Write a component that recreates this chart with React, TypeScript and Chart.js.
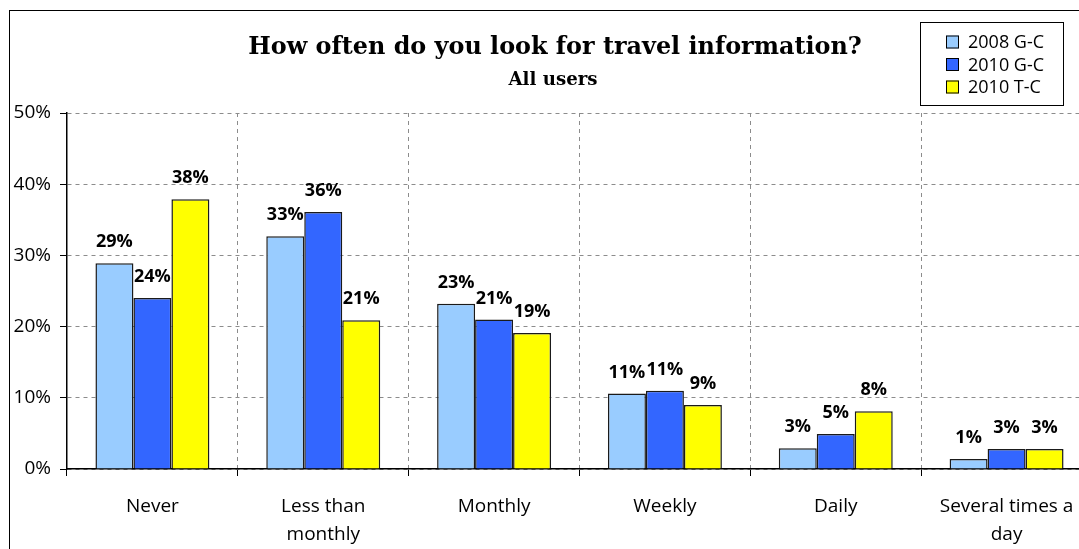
import React, { useEffect, useRef } from "react";
import { Chart, registerables } from "chart.js";

Chart.register(...registerables);

const categories: (string | string[])[] = [
  "Never",
  ["Less than", "monthly"],
  "Monthly",
  "Weekly",
  "Daily",
  ["Several times a", "day"],
];
const seriesNames = ["2008 G-C", "2010 G-C", "2010 T-C"];
const values2008GC = [28.9, 32.7, 23.2, 10.6, 2.9, 1.4];
const values2010GC = [24.0, 36.1, 21.0, 11.0, 4.9, 2.8];
const values2010TC = [37.9, 20.9, 19.1, 9.0, 8.1, 2.8];
const seriesColors = ["#99CCFF", "#3366FF", "#FFFF00"];
const yTicks = [0, 10, 20, 30, 40, 50];
const titleText = "How often do you look for travel information?";
const subtitleText = "All users";

const SANS = "'Open Sans', 'Liberation Sans', sans-serif";
const SERIF = "'DejaVu Serif', 'Liberation Serif', serif";

function fitFont(ctx: CanvasRenderingContext2D, text: string, target: number, base: number) {
  ctx.font = `bold ${base}px ${SERIF}`;
  const w = ctx.measureText(text).width;
  const size = (base * target) / w;
  ctx.font = `bold ${size}px ${SERIF}`;
}

const decorPlugin = {
  id: "decor",
  afterDatasetsDraw(chart: any) {
    const ctx = chart.ctx;
    ctx.save();
    // data labels
    ctx.font = `bold 18px ${SANS}`;
    ctx.fillStyle = "#000";
    ctx.textAlign = "center";
    ctx.textBaseline = "middle";
    chart.data.datasets.forEach((ds: any, i: number) => {
      const meta = chart.getDatasetMeta(i);
      meta.data.forEach((bar: any, j: number) => {
        ctx.fillText(Math.round(ds.data[j]) + "%", bar.x, bar.y - 21);
      });
    });
    // title
    fitFont(ctx, titleText, 614, 24);
    ctx.fillText(titleText, 545, 37);
    fitFont(ctx, subtitleText, 89, 17);
    ctx.fillText(subtitleText, 543, 69);
    // legend
    const lx = 910, ly = 11, lw = 143, lh = 83;
    ctx.fillStyle = "#fff";
    ctx.fillRect(lx, ly, lw, lh);
    ctx.strokeStyle = "#000";
    ctx.lineWidth = 1;
    ctx.strokeRect(lx + 0.5, ly + 0.5, lw, lh);
    ctx.font = `18px ${SANS}`;
    ctx.textAlign = "left";
    chart.data.datasets.forEach((ds: any, i: number) => {
      const cy = 31 + i * 22.5;
      ctx.fillStyle = ds.backgroundColor;
      ctx.fillRect(936, cy - 6.5, 13, 13);
      ctx.strokeStyle = "#000";
      ctx.strokeRect(936.5, cy - 6, 12, 12);
      ctx.fillStyle = "#000";
      ctx.fillText(ds.label, 958, cy + 1);
    });
    ctx.restore();
  },
};

export default function App() {
  const ref = useRef<HTMLCanvasElement>(null);
  useEffect(() => {
    if (!ref.current) return;
    const seriesValues = [values2008GC, values2010GC, values2010TC];
    const chart = new Chart(ref.current, {
      type: "bar",
      data: {
        labels: categories,
        datasets: seriesNames.map((name, i) => ({
          label: name,
          data: seriesValues[i],
          backgroundColor: seriesColors[i],
          borderColor: "#1a1a1a",
          borderWidth: 1.5,
          categoryPercentage: 0.667,
          barPercentage: 1.0,
        })),
      },
      options: {
        animation: false,
        responsive: false,
        maintainAspectRatio: false,
        layout: { padding: { top: 102, left: 0, right: 18, bottom: 0 } },
        plugins: {
          legend: { display: false },
          title: { display: false },
          tooltip: { enabled: false },
        },
        scales: {
          x: {
            grid: {
              display: true,
              offset: true,
              color: "#8c8c8c",
              lineWidth: 1,
              tickLength: 7,
              tickColor: "#000",
            },
            border: { display: true, color: "#000", width: 1.5, dash: [4, 4] } as any,
            ticks: {
              color: "#000",
              font: { family: SANS, size: 19, lineHeight: 28 / 19 },
              padding: 17,
              maxRotation: 0,
              autoSkip: false,
            },
            afterFit: (scale: any) => {
              scale.height = 92;
            },
          },
          y: {
            min: 0,
            max: 50,
            afterBuildTicks: (scale: any) => {
              scale.ticks = yTicks.map((v) => ({ value: v }));
            },
            grid: {
              color: "#8c8c8c",
              lineWidth: 1,
              tickLength: 7,
              tickColor: "#000",
            },
            border: { display: true, color: "#000", width: 1.5, dash: [4, 4] } as any,
            ticks: {
              color: "#000",
              font: { family: SANS, size: 19 },
              padding: 9,
              callback: (v: any) => v + "%",
            },
            afterFit: (scale: any) => {
              scale.width = 57;
            },
          },
        },
      },
      plugins: [decorPlugin],
    } as any);
    return () => chart.destroy();
  }, []);

  return (
    <div
      style={{
        position: "fixed",
        left: 0,
        top: 0,
        width: 1079,
        height: 549,
        overflow: "hidden",
        background: "#fff",
      }}
    >
      <div
        style={{
          position: "absolute",
          left: 9,
          top: 10,
          width: 1100,
          height: 550,
          border: "1px solid #000",
          background: "#fff",
        }}
      >
        <canvas ref={ref} width={1100} height={550} style={{ display: "block" }} />
      </div>
    </div>
  );
}
